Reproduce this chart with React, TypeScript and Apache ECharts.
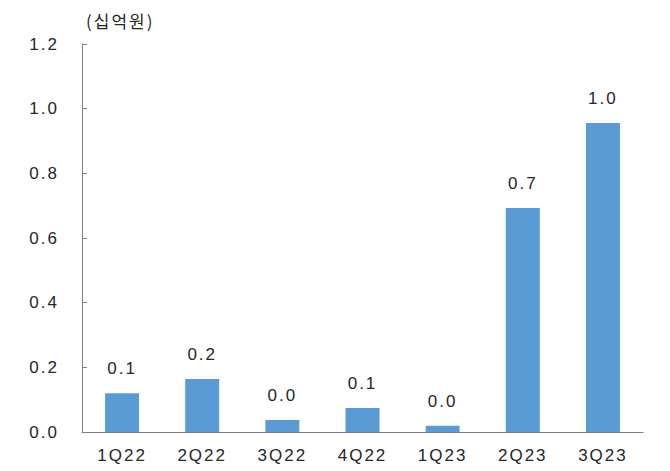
import React, { useEffect, useRef } from "react";
import * as echarts from "echarts";

const quarters = ["1Q22", "2Q22", "3Q22", "4Q22", "1Q23", "2Q23", "3Q23"];
const values = [0.12, 0.164, 0.037, 0.074, 0.019, 0.693, 0.956];
const unitLabel = "(십억원)";
const yMin = 0;
const yMax = 1.2;
const yStep = 0.2;

const FONT = "'Liberation Sans', 'Noto Sans CJK KR', sans-serif";
const TEXT = "#262626";

export default function App() {
  const ref = useRef<HTMLDivElement>(null);

  useEffect(() => {
    document.body.style.margin = "0";
    const chart = echarts.init(ref.current!, null, { renderer: "svg" });
    chart.setOption({
      animation: false,
      backgroundColor: "#ffffff",
      grid: { left: 82, right: 27, top: 44, bottom: 39, containLabel: false },
      graphic: [
        {
          type: "text",
          x: 86,
          y: 20,
          style: {
            text: unitLabel,
            font: `17px 'Noto Sans CJK KR', sans-serif`,
            fill: TEXT,
            textVerticalAlign: "middle",
          },
        },
      ],
      xAxis: {
        type: "category",
        data: quarters,
        axisLine: { lineStyle: { color: "#7f7f7f", width: 1 } },
        axisTick: { inside: true, length: 4, lineStyle: { color: "#7f7f7f" } },
        axisLabel: { color: TEXT, fontSize: 17, fontFamily: FONT, margin: 15 },
      },
      yAxis: {
        type: "value",
        min: yMin,
        max: yMax,
        interval: yStep,
        axisLine: { show: true, lineStyle: { color: "#7f7f7f", width: 1 } },
        axisTick: { show: true, inside: true, length: 5, lineStyle: { color: "#7f7f7f" } },
        splitLine: { show: false },
        axisLabel: {
          color: TEXT,
          fontSize: 17,
          fontFamily: FONT,
          margin: 23,
          formatter: (v: number) => v.toFixed(1),
        },
      },
      series: [
        {
          type: "bar",
          data: values,
          barWidth: 34,
          itemStyle: { color: "#5b9bd5" },
          label: {
            show: true,
            position: "top",
            distance: 16,
            color: TEXT,
            fontSize: 17,
            fontFamily: FONT,
            formatter: (p: any) => Number(p.value).toFixed(1),
          },
        },
      ],
    });
    return () => chart.dispose();
  }, []);

  return (
    <div
      ref={ref}
      style={{
        position: "absolute",
        left: 0,
        top: 0,
        width: 670,
        height: 471,
        letterSpacing: "2px",
      }}
    />
  );
}
